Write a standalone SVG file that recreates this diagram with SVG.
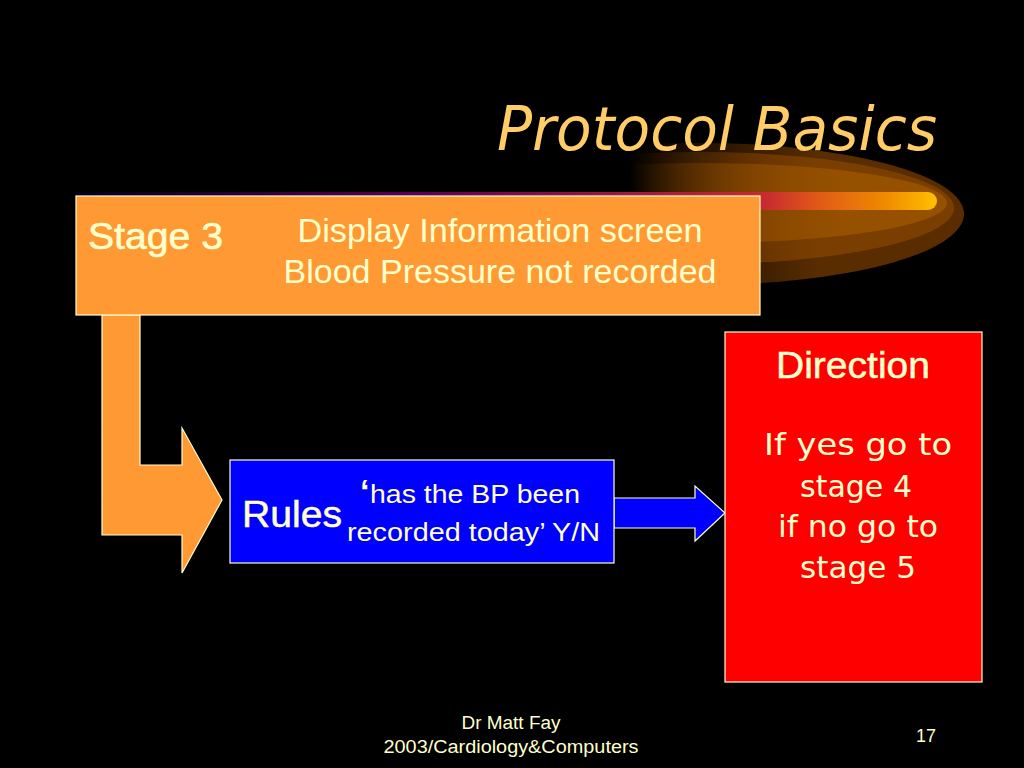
<svg xmlns="http://www.w3.org/2000/svg" width="1024" height="768" viewBox="0 0 1024 768">
<defs>
<linearGradient id="fade1" gradientUnits="userSpaceOnUse" x1="630" y1="0" x2="820" y2="0">
<stop offset="0" stop-color="#5a2d00" stop-opacity="0"/><stop offset="1" stop-color="#5a2d00"/></linearGradient>
<linearGradient id="fade2" gradientUnits="userSpaceOnUse" x1="630" y1="0" x2="820" y2="0">
<stop offset="0" stop-color="#7a3e00" stop-opacity="0"/><stop offset="1" stop-color="#7a3e00"/></linearGradient>
<linearGradient id="fade3" gradientUnits="userSpaceOnUse" x1="630" y1="0" x2="840" y2="0">
<stop offset="0" stop-color="#955000" stop-opacity="0"/><stop offset="1" stop-color="#955000"/></linearGradient>
<linearGradient id="streak" gradientUnits="userSpaceOnUse" x1="76" y1="0" x2="937" y2="0">
<stop offset="0" stop-color="#000020"/><stop offset="0.4" stop-color="#5a0058"/><stop offset="0.8" stop-color="#c82a30"/><stop offset="0.86" stop-color="#e05818"/><stop offset="0.94" stop-color="#f08a00"/><stop offset="1" stop-color="#ffc000"/></linearGradient>
<clipPath id="glowclip"><rect x="630" y="130" width="400" height="170"/></clipPath>
<style>
.txt{fill:#FFFFCC;font-family:"Liberation Sans",Arial,sans-serif}
.comic{fill:#FFFFCC;font-family:"DejaVu Sans",sans-serif}
.box{stroke:#FFFFCC;stroke-width:1.2}
</style>
</defs>
<rect width="1024" height="768" fill="#000"/>
<g id="swoosh" clip-path="url(#glowclip)">
<ellipse cx="700" cy="214" rx="264" ry="71" fill="url(#fade1)"/>
<ellipse cx="700" cy="208" rx="254" ry="56" fill="url(#fade2)"/>
<ellipse cx="700" cy="203" rx="247" ry="40" fill="url(#fade3)"/>
</g>
<path d="M76,192 H928 A9,9 0 0 1 928,210 H76 Z" fill="url(#streak)"/>
<text x="497" y="150" font-family="DejaVu Sans,sans-serif" font-style="italic" font-size="60" fill="#FFCC66" textLength="440" lengthAdjust="spacingAndGlyphs">Protocol Basics</text>
<g id="connectors">
<polygon points="102,315 140,315 140,465 182,465 182,428 222,500 182,573 182,535 102,535" fill="#FF9933" class="box"/>
<polygon points="614,498 695,498 695,486 725,513 695,541 695,528 614,528" fill="#0000FF" class="box"/>
</g>
<g id="stage3">
<rect x="76" y="196" width="684" height="119" fill="#FF9933" class="box"/>
<text x="88" y="249" class="txt" font-size="36" textLength="135" lengthAdjust="spacingAndGlyphs" stroke="#FFFFCC" stroke-width="0.6">Stage 3</text>
<text x="500" y="242" class="txt" font-size="33" text-anchor="middle" textLength="405" lengthAdjust="spacingAndGlyphs">Display Information screen</text>
<text x="500" y="283" class="txt" font-size="33" text-anchor="middle" textLength="433" lengthAdjust="spacingAndGlyphs">Blood Pressure not recorded</text>
</g>
<g id="rules">
<rect x="230" y="460" width="384" height="103" fill="#0000FF" class="box"/>
<text x="242" y="527" class="txt" font-size="36" textLength="100" lengthAdjust="spacingAndGlyphs" stroke="#FFFFCC" stroke-width="0.5">Rules</text>
<text x="360" y="503" class="txt" font-size="34" font-weight="bold">‘</text>
<text x="370" y="503" class="txt" font-size="26" textLength="210" lengthAdjust="spacingAndGlyphs">has the BP been</text>
<text x="347" y="541" class="txt" font-size="26" textLength="253" lengthAdjust="spacingAndGlyphs">recorded today’ Y/N</text>
</g>
<g id="direction">
<rect x="725" y="332" width="257" height="350" fill="#FF0000" class="box"/>
<text x="853" y="378" class="txt" font-size="37" text-anchor="middle" textLength="154" lengthAdjust="spacingAndGlyphs" stroke="#FFFFCC" stroke-width="0.5">Direction</text>
<text x="858" y="455" class="comic" font-size="30" text-anchor="middle" textLength="188" lengthAdjust="spacingAndGlyphs">If yes go to</text>
<text x="856" y="497" class="comic" font-size="30" text-anchor="middle" textLength="112" lengthAdjust="spacingAndGlyphs">stage 4</text>
<text x="858" y="537" class="comic" font-size="30" text-anchor="middle" textLength="160" lengthAdjust="spacingAndGlyphs">if no go to</text>
<text x="858" y="578" class="comic" font-size="30" text-anchor="middle" textLength="116" lengthAdjust="spacingAndGlyphs">stage 5</text>
</g>
<g id="footer">
<text x="511" y="729" class="txt" font-size="18" text-anchor="middle" textLength="99" lengthAdjust="spacingAndGlyphs">Dr Matt Fay</text>
<text x="511" y="753" class="txt" font-size="18" text-anchor="middle" textLength="255" lengthAdjust="spacingAndGlyphs">2003/Cardiology&amp;Computers</text>
<text x="926" y="742" class="txt" font-size="18" text-anchor="middle">17</text>
</g>
</svg>
